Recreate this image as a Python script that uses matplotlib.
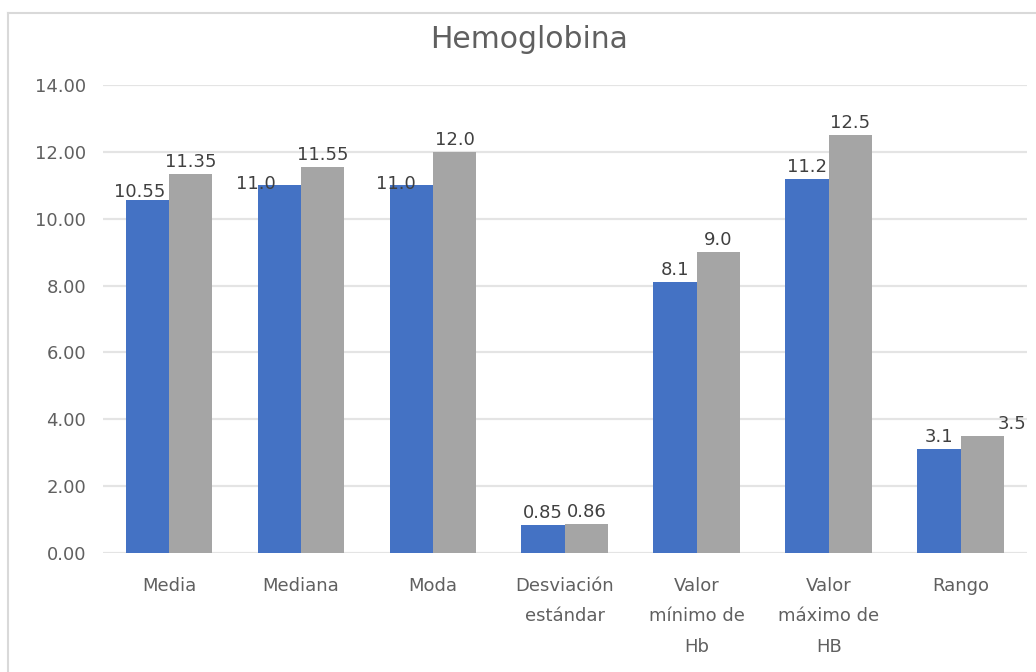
import numpy as np
import matplotlib.pyplot as plt
from matplotlib.lines import Line2D

plt.rcParams['font.family'] = ['DejaVu Sans']

# Datos del gráfico
categorias = ["Media", "Mediana", "Moda", "Desviación\nestándar",
              "Valor\nmínimo de\nHb", "Valor\nmáximo de\nHB", "Rango"]
serie_1 = [10.55, 11.0, 11.0, 0.85, 8.1, 11.2, 3.1]
serie_2 = [11.35, 11.55, 12.0, 0.86, 9.0, 12.5, 3.5]
etiquetas_1 = ["10.55", "11.0", "11.0", "0.85", "8.1", "11.2", "3.1"]
etiquetas_2 = ["11.35", "11.55", "12.0", "0.86", "9.0", "12.5", "3.5"]

# desplazamientos (px) de algunas etiquetas, como las coloca Excel
desp_1 = {0: (-8, -4), 1: (-23, -11), 2: (-15, -11)}
desp_2 = {6: (30, 0)}

azul = "#4472C4"
gris = "#A5A5A5"

fig = plt.figure(figsize=(10.36, 6.72), dpi=100)
ax = fig.add_axes([0.0994, 0.177, 0.8915, 0.6965])

x = np.arange(len(categorias))
w = 0.328
b1 = ax.bar(x - w / 2, serie_1, w, color=azul, zorder=3)
b2 = ax.bar(x + w / 2, serie_2, w, color=gris, zorder=3)

# Etiquetas de datos
for barras, textos, desp in [(b1, etiquetas_1, desp_1), (b2, etiquetas_2, desp_2)]:
    for i, (r, t) in enumerate(zip(barras, textos)):
        dx, dy = desp.get(i, (0, 0))
        ax.annotate(t, (r.get_x() + r.get_width() / 2, r.get_height()),
                    xytext=(dx, 3 + dy), textcoords="offset pixels",
                    ha="center", va="bottom", fontsize=13, color="#404040",
                    zorder=4)

ax.set_xlim(-0.5, len(categorias) - 0.5)
ax.set_ylim(0, 14)
ax.set_yticks(np.arange(0, 15, 2))
ax.set_yticklabels([f"{v:.2f}" for v in np.arange(0, 15, 2)])
ax.set_xticks(x)
ax.set_xticklabels(categorias, va="top", linespacing=1.9)
ax.tick_params(axis="y", length=0, pad=12, labelsize=13, labelcolor="#606060")
ax.tick_params(axis="x", length=0, pad=17, labelsize=13, labelcolor="#606060")
ax.grid(axis="y", color="#E4E4E4", linewidth=1.6, zorder=0)
for s in ax.spines.values():
    s.set_visible(False)

fig.text(529 / 1036, 1 - 40 / 672, "Hemoglobina", fontsize=21.5,
         color="#606060", ha="center", va="center")

# Marco del área del gráfico
fig.add_artist(Line2D([8 / 1036, 8 / 1036], [0, 1 - 13 / 672],
                      transform=fig.transFigure, color="#D9D9D9", linewidth=1.5))
fig.add_artist(Line2D([8 / 1036, 1], [1 - 13 / 672, 1 - 13 / 672],
                      transform=fig.transFigure, color="#D9D9D9", linewidth=1.5))

plt.savefig("out.png", dpi=100)
